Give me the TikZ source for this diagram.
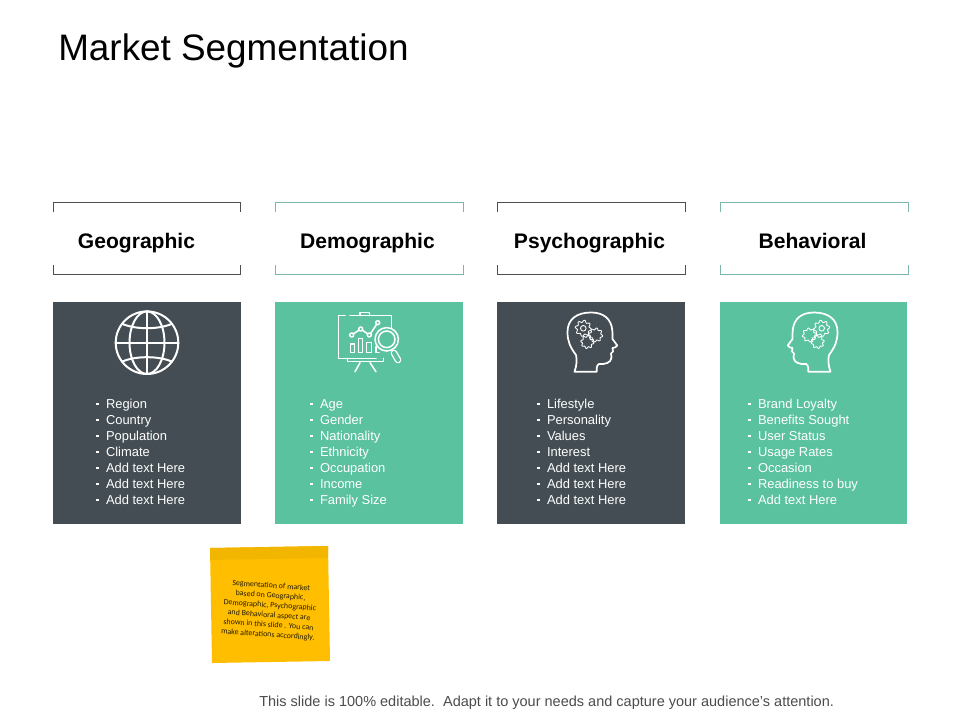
\documentclass[tikz,border=0pt]{standalone}
\usepackage{fontspec}
\setmainfont{Liberation Sans}
\newfontfamily\notefont{Carlito}
\definecolor{slate}{HTML}{434D53}
\definecolor{mint}{HTML}{5BC2A0}
\definecolor{mintline}{HTML}{7DB5AB}
\definecolor{slateline}{HTML}{4A4F52}
\definecolor{noteyellow}{HTML}{FFBE00}
\definecolor{noteband}{HTML}{F2B600}
\newcommand{\bitem}[1]{\rule{0pt}{8pt}\makebox[7.3pt][l]{\rule[2.6pt]{1.8pt}{1.8pt}}#1\\}
\tikzset{
  x=0.75pt,y=-0.75pt,
  head/.style={font=\fontsize{15.8}{18}\selectfont\bfseries,text=black,inner sep=0pt,anchor=base},
  listtext/.style={font=\fontsize{9.7}{12}\selectfont,text=white,align=left,inner sep=0pt,anchor=north west},
  icon/.style={draw=white,line width=1.3pt,line join=round,line cap=round},
  iconthin/.style={draw=white,line width=0.65pt,line join=round},
  bracket/.style={line width=0.75pt},
}
\newcommand{\gearat}[3]{%
  \begin{scope}[shift={(#1,#2)}]
  \draw[iconthin] plot[samples=65,domain=0:360,smooth cycle] (\x:{#3*(1+0.16*sin(8*\x+20))});
  \end{scope}}
\newcommand{\headshape}{%
  \draw[icon] (19.5,66.7) .. controls (22,60) and (22,54) .. (21,50)
    .. controls (15,42) and (12.5,36) .. (12.5,27)
    .. controls (12.5,14) and (22,7.5) .. (36,7.5)
    .. controls (49,7.5) and (56,14) .. (57.3,25)
    .. controls (57.6,29) and (57.2,32) .. (57.5,34)
    -- (62.3,40.5) .. controls (62,42.5) and (58.5,42.5) .. (57.5,43)
    -- (58,46.5) -- (56,48.5) -- (56.5,52.5)
    .. controls (56,58) and (50,59.5) .. (44,59)
    .. controls (41.5,60) and (41.5,64) .. (41.7,66.7) -- cycle;
  \gearat{28.3}{23.3}{7}
  \draw[iconthin] (28.3,23.3) circle (2.8);
  \gearat{40.7}{30}{6.1}
  \gearat{32.3}{37}{5.7}
}
\begin{document}
\begin{tikzpicture}
\useasboundingbox (0,0) rectangle (960,720);
\fill[white] (0,0) rectangle (960,720);
% title
\node[anchor=base west,inner sep=0pt,font=\fontsize{27.65}{32}\selectfont] (title) at (58,61) {Market Segmentation};
% panels
\fill[slate] (53,302) rectangle (240.7,524);
\fill[mint] (275,302) rectangle (463.3,524);
\fill[slate] (497,302) rectangle (685.3,524);
\fill[mint] (720,302) rectangle (907.3,524);
% brackets
\foreach \a/\b/\c in {53.5/240.5/slateline,275.5/463.5/mintline,497.5/685.5/slateline,720/908/mintline}{
  \draw[bracket,draw=\c] (\a,212.5) -- (\a,203) -- (\b,203) -- (\b,212.5);
  \draw[bracket,draw=\c] (\a,265) -- (\a,274.5) -- (\b,274.5) -- (\b,265);
}
% headings
\node[head] (h1) at (136.5,248.5) {Geographic};
\node[head] (h2) at (367.5,248.5) {Demographic};
\node[head] (h3) at (589.5,248.5) {Psychographic};
\node[head] (h4) at (812.5,248.5) {Behavioral};
% lists
\node[listtext] (l1) at (96,397.5) {\bitem{Region}\bitem{Country}\bitem{Population}\bitem{Climate}\bitem{Add text Here}\bitem{Add text Here}\bitem{Add text Here}};
\node[listtext] (l2) at (310,397.5) {\bitem{Age}\bitem{Gender}\bitem{Nationality}\bitem{Ethnicity}\bitem{Occupation}\bitem{Income}\bitem{Family Size}};
\node[listtext] (l3) at (537,397.5) {\bitem{Lifestyle}\bitem{Personality}\bitem{Values}\bitem{Interest}\bitem{Add text Here}\bitem{Add text Here}\bitem{Add text Here}};
\node[listtext] (l4) at (748,397.5) {\bitem{Brand Loyalty}\bitem{Benefits Sought}\bitem{User Status}\bitem{Usage Rates}\bitem{Occasion}\bitem{Readiness to buy}\bitem{Add text Here}};
% globe
\begin{scope}[shift={(147,342.7)},icon/.append style={line width=1.5pt}]
  \draw[icon] (0,0) circle (31.3);
  \draw[icon] (0,0) ellipse (17.5 and 31.3);
  \draw[icon] (0,-31.3) -- (0,31.3) (-31.3,0) -- (31.3,0);
  \draw[icon] (-25,-19) .. controls (-12,-13) and (12,-13) .. (25,-19);
  \draw[icon] (-25,19) .. controls (-12,13) and (12,13) .. (25,19);
\end{scope}
% chart icon
\begin{scope}[icon/.append style={line width=1.15pt}]
  \draw[icon] (345,315.7) -- (338.3,315.7) -- (338.3,358.3) -- (376,358.3);
  \draw[icon] (350,315.7) -- (391.7,315.7) -- (391.7,327.5);
  \draw[icon] (360,315.7) -- (360,312.3) -- (369.3,312.3) -- (369.3,315.7);
  \draw[icon] (347.3,358.3) -- (347.3,361.7) -- (383.3,361.7) -- (383.3,358.3);
  \draw[icon] (360,362.7) -- (355,371.7) (370,362.7) -- (376,371.7);
  \draw[icon] (350.7,352.7) rectangle (354.7,344);
  \draw[icon] (358.3,352.7) rectangle (362.7,338.3);
  \draw[icon] (366.7,352.7) rectangle (371.7,342.7);
  \draw[icon] (379,352.7) -- (376,352.7) -- (376,346.7);
  \draw[icon] (351.7,335) circle (2) (360.7,329) circle (2) (369.3,335) circle (2) (377.7,322.7) circle (2);
  \draw[icon] (353.4,333.8) -- (359,330.2) (362.4,330.2) -- (367.6,333.8) (370.6,333.4) -- (376.5,324.5);
  \fill[mint] (386.7,339.3) circle (11.7);
  \draw[icon] (386.7,339.3) circle (11.7) (386.7,339.3) circle (8.3);
  \draw[line width=5pt,white,line cap=round] (394,353) -- (398,360);
  \draw[line width=3pt,mint,line cap=round] (394,353) -- (398,360);
\end{scope}
% heads
\begin{scope}[shift={(555,305)}]\headshape\end{scope}
\begin{scope}[shift={(850,305)},xscale=-1]\headshape\end{scope}
% note
\fill[noteyellow] (210,548) -- (328,546) -- (330,661) -- (212,663) -- cycle;
\fill[noteband] (210,548) -- (328,546) -- (328.2,558) -- (210.2,560) -- cycle;
\node[rotate=-4,inner sep=0pt,align=center,text=black!85!noteyellow,font=\notefont\fontsize{5.95}{7.35}\selectfont] (note) at (269.5,610.5)
 {Segmentation of market\\based on Geographic,\\Demographic, Psychographic\\and Behavioral aspect are\\shown in this slide . You can\\make alterations accordingly.};
% footer
\node[anchor=base west,inner sep=0pt,text=black!70,font=\fontsize{10.88}{12}\selectfont] (foot) at (259,706) {This slide is 100\% editable.\ \ Adapt it to your needs and capture your audience{\char39}s attention.};
\end{tikzpicture}
\end{document}
